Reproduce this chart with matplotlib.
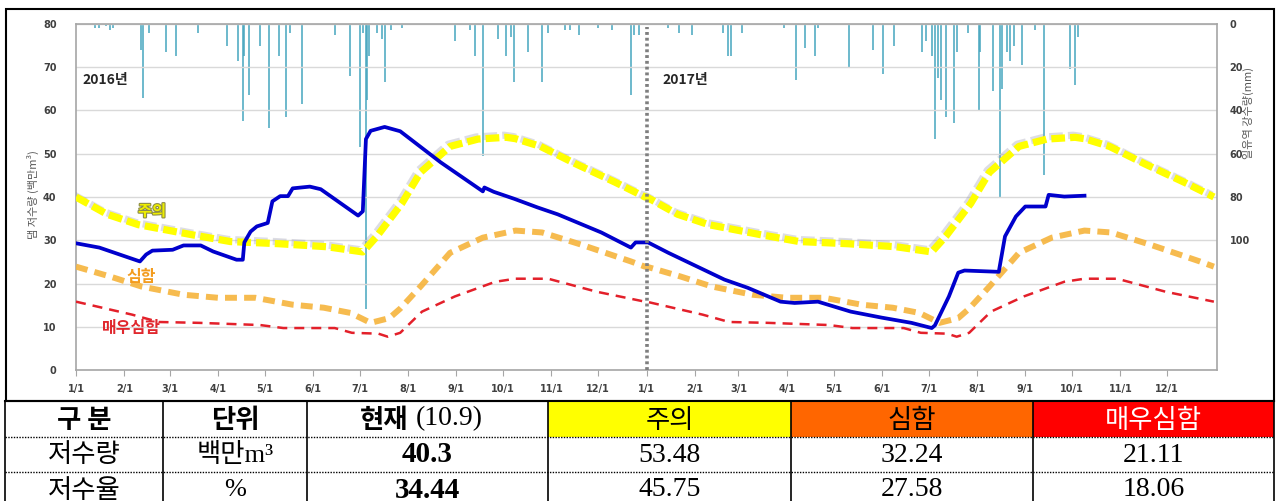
import matplotlib
matplotlib.use("Agg")
import matplotlib.pyplot as plt
import matplotlib.dates as mdates
import matplotlib.patheffects as pe
from matplotlib.patches import Rectangle
from matplotlib.lines import Line2D
import pandas as pd

# ---------------- data ----------------
# Daily dam storage (million m3), vertices of the observed line
storage_dates = [
    "2016-01-01", "2016-01-16", "2016-02-11", "2016-02-15", "2016-02-19",
    "2016-03-03", "2016-03-10", "2016-03-21", "2016-03-29", "2016-04-13",
    "2016-04-17", "2016-04-18", "2016-04-22", "2016-04-26", "2016-05-03",
    "2016-05-06", "2016-05-11", "2016-05-16", "2016-05-19", "2016-05-30",
    "2016-06-06", "2016-06-30", "2016-07-03", "2016-07-05", "2016-07-08",
    "2016-07-17", "2016-07-27", "2016-08-22", "2016-09-18", "2016-09-19",
    "2016-09-25", "2016-10-08", "2016-10-23", "2016-11-05", "2016-12-03",
    "2016-12-22", "2016-12-25", "2017-01-02", "2017-01-15", "2017-02-20",
    "2017-03-07", "2017-03-28", "2017-04-06", "2017-04-21", "2017-05-12",
    "2017-06-01", "2017-06-20", "2017-07-03", "2017-07-05", "2017-07-14",
    "2017-07-20", "2017-07-24", "2017-08-15", "2017-08-19", "2017-08-26",
    "2017-09-01", "2017-09-14", "2017-09-16", "2017-09-26", "2017-10-09",
]
storage_vals = [
    29.3, 28.3, 25.1, 26.7, 27.6,
    27.8, 28.8, 28.8, 27.4, 25.5,
    25.5, 29.5, 32.0, 33.2, 34.0,
    39.0, 40.2, 40.2, 42.0, 42.4,
    41.8, 35.7, 36.7, 53.4, 55.3,
    56.2, 55.2, 48.0, 41.3, 42.2,
    41.2, 39.6, 37.6, 36.0, 31.8,
    28.3, 29.5, 29.5, 27.1, 20.9,
    19.0, 15.8, 15.5, 15.8, 13.5,
    12.1, 10.9, 9.7, 10.3, 17.0,
    22.5, 23.0, 22.7, 30.9, 35.5,
    37.8, 37.8, 40.5, 40.1, 40.3,
]

# Annual drought-stage rule curves (month-day, million m3)
caution_md = ["01-01", "01-21", "02-10", "03-15", "04-09", "05-10", "06-10",
              "07-03", "07-12", "07-28", "08-09", "08-28", "09-15", "10-03",
              "10-09", "10-25", "11-17", "12-12", "12-31"]
caution_vals = [40.0, 36.0, 33.6, 31.3, 29.7, 29.2, 28.5,
                27.3, 30.9, 38.5, 45.7, 51.7, 53.4, 53.8,
                53.48, 51.7, 47.6, 43.4, 40.0]

severe_md = ["01-01", "01-23", "02-12", "03-10", "04-01", "04-25", "05-19",
             "06-08", "06-25", "07-08", "07-20", "07-27", "08-09", "08-28",
             "09-18", "10-09", "10-26", "11-20", "12-22", "12-31"]
severe_vals = [23.9, 21.6, 19.3, 17.4, 16.7, 16.7, 15.1,
               14.4, 13.2, 10.9, 12.0, 14.2, 19.3, 27.1,
               30.6, 32.24, 31.8, 29.0, 25.1, 23.9]

very_md = ["01-01", "02-06", "02-23", "03-20", "04-28", "05-13", "06-15",
           "06-26", "07-13", "07-19", "07-27", "08-10", "08-31", "09-26",
           "10-09", "10-30", "11-30", "12-31"]
very_vals = [15.8, 12.8, 11.1, 10.9, 10.4, 9.7, 9.7,
             8.6, 8.4, 7.7, 8.6, 13.5, 17.0, 20.4,
             21.11, 21.1, 18.1, 15.8]

curve_years = [2016, 2017]

# Daily basin rainfall (mm)
rain_dates = [
    "2016-01-13", "2016-01-16", "2016-01-20", "2016-01-23", "2016-01-25",
    "2016-02-12", "2016-02-13", "2016-02-17", "2016-02-28", "2016-03-05",
    "2016-03-19", "2016-04-07", "2016-04-14", "2016-04-17", "2016-04-18",
    "2016-04-21", "2016-04-28", "2016-05-04", "2016-05-10", "2016-05-15",
    "2016-05-17", "2016-05-25", "2016-06-15", "2016-06-25", "2016-07-01",
    "2016-07-03", "2016-07-05", "2016-07-06", "2016-07-07", "2016-07-12",
    "2016-07-15", "2016-07-17", "2016-07-21", "2016-07-28", "2016-08-31",
    "2016-09-10", "2016-09-13", "2016-09-18", "2016-09-28", "2016-10-03",
    "2016-10-06", "2016-10-08", "2016-10-17", "2016-10-26", "2016-10-30",
    "2016-11-10", "2016-11-13", "2016-11-19", "2016-12-01", "2016-12-10",
    "2016-12-22", "2016-12-24", "2016-12-27",
    "2017-01-15", "2017-01-22", "2017-01-30", "2017-02-19", "2017-02-22",
    "2017-02-24", "2017-03-03", "2017-03-30", "2017-04-07", "2017-04-13",
    "2017-04-19", "2017-04-21", "2017-05-11", "2017-05-26", "2017-06-02",
    "2017-06-09", "2017-06-27", "2017-06-29", "2017-07-03", "2017-07-05",
    "2017-07-07", "2017-07-09", "2017-07-12", "2017-07-17", "2017-07-19",
    "2017-07-26", "2017-08-02", "2017-08-03", "2017-08-11", "2017-08-16",
    "2017-08-17", "2017-08-20", "2017-08-22", "2017-08-25", "2017-08-30",
    "2017-09-07", "2017-09-13", "2017-09-30", "2017-10-03", "2017-10-05",
]
rain_mm = [
    2, 2, 1, 3, 2,
    12, 34, 4, 13, 15,
    4, 10, 17, 45, 15,
    33, 10, 48, 15, 43,
    4, 37, 5, 24, 57,
    4, 132, 35, 15, 4,
    7, 27, 3, 2, 8,
    3, 15, 61, 7, 15,
    6, 27, 13, 27, 4,
    3, 3, 5, 2, 3,
    33, 5, 5,
    2, 4, 5, 4, 15,
    15, 4, 2, 26, 11,
    15, 2, 20, 12, 23,
    10, 13, 8, 15, 53,
    25, 35, 43, 46, 13,
    4, 40, 13, 31, 80,
    30, 13, 17, 10, 19,
    3, 70, 21, 28, 6,
]

# Summary table
table_header = ["구 분", "단위", "현재", "주의", "심함", "매우심함"]
table_header_date = "(10.9)"
row_labels = ["저수량", "저수율"]
row_units = ["백만m³", "%"]
current_vals = ["40.3", "34.44"]
caution_now = ["53.48", "45.75"]
severe_now = ["32.24", "27.58"]
very_now = ["21.11", "18.06"]

# ---------------- figure ----------------
W, H = 1276, 501
fig = plt.figure(figsize=(W / 100, H / 100), dpi=100)
fig.patch.set_facecolor("white")

KR = ["Noto Sans CJK KR", "DejaVu Sans"]
SERIF_KR = ["Liberation Serif", "Noto Sans CJK KR"]


def fx(x):
    return x / W


def fy(y):
    return 1 - y / H


ax = fig.add_axes([fx(76), fy(370), (1217 - 76) / W, (370 - 24) / H])
ax2 = ax.twinx()
ax.set_zorder(ax2.get_zorder() + 1)
ax.patch.set_visible(False)

# rainfall hanging from the top
rd = pd.to_datetime(rain_dates)
ax2.vlines(rd, 0, rain_mm, color="#45A5BE", lw=1.1)
ax2.set_ylim(160, 0)
ax2.set_yticks([0, 20, 40, 60, 80, 100])
ax2.tick_params(axis="y", length=0, pad=9, labelsize=7, labelcolor="#404040")
for s in ax2.spines.values():
    s.set_visible(False)


def annual(md, years):
    return pd.to_datetime([f"{y}-{d}" for y in years for d in md])


# rule curves
cd = annual(caution_md, curve_years)
ax.plot(cd, caution_vals * len(curve_years), color="#FFFF00", lw=5.2,
        linestyle=(0, (1.9, 0.7)), zorder=3,
        path_effects=[pe.SimpleLineShadow(offset=(-1.5, 1.5), shadow_color="#9090A8", alpha=0.3),
                      pe.Normal()])

sd = annual(severe_md, curve_years)
ax.plot(sd, severe_vals * len(curve_years), color="#F6B43C", lw=4.3,
        linestyle=(0, (2.0, 1.2)), alpha=0.9, zorder=3)

vd = annual(very_md, curve_years)
ax.plot(vd, very_vals * len(curve_years), color="#E3202A", lw=1.8,
        linestyle=(0, (4.0, 2.8)), zorder=3)

# observed storage
ax.plot(pd.to_datetime(storage_dates), storage_vals, color="#0000CC", lw=2.7,
        solid_joinstyle="round", zorder=4)

# year divider
ax.plot([pd.Timestamp("2017-01-01")] * 2, [0, 79.2], color="#7F7F7F", lw=2.6,
        linestyle=(0, (0.8, 0.8)), zorder=5)

ax.set_ylim(0, 80)
ax.set_yticks(range(0, 81, 10))
ax.set_xlim(pd.Timestamp("2016-01-01"), pd.Timestamp("2018-01-02"))
ax.yaxis.grid(True, color="#D9D9D9", lw=1)
ax.set_axisbelow(True)
ax.tick_params(axis="y", length=0, pad=14, labelsize=7, labelcolor="#404040")
ax.set_xticks(pd.date_range("2016-01-01", "2017-12-01", freq="MS"))
ax.xaxis.set_major_formatter(
    matplotlib.ticker.FuncFormatter(lambda v, p: f"{mdates.num2date(v).month}/{mdates.num2date(v).day}"))
ax.tick_params(axis="x", length=4, color="#A6A6A6", pad=6, labelsize=7, labelcolor="#404040")
for side in ["left", "bottom", "right", "top"]:
    ax.spines[side].set_color("#A6A6A6")
    ax.spines[side].set_linewidth(1.2)
for lab in ax.get_xticklabels() + ax.get_yticklabels() + ax2.get_yticklabels():
    lab.set_fontweight("bold")

# axis titles
fig.text(fx(33), fy(195), "댐 저수량 (백만m³)", rotation=90, ha="center", va="center",
         fontsize=8, color="#595959", family=KR)
fig.text(fx(1248), fy(113), "일유역 강수량(mm)", rotation=90, ha="center", va="center",
         fontsize=8, color="#595959", family=KR)

# labels inside the chart
fig.text(fx(82), fy(80), "2016년", ha="left", va="center", fontsize=10,
         fontweight="bold", color="#262626", family=KR)
fig.text(fx(662), fy(80), "2017년", ha="left", va="center", fontsize=10,
         fontweight="bold", color="#262626", family=KR)
fig.text(fx(152), fy(211), "주의", ha="center", va="center", fontsize=11,
         fontweight="bold", color="#EEEE00", family=KR,
         path_effects=[pe.withStroke(linewidth=1.6, foreground="#8C8C4A")])
fig.text(fx(141), fy(277), "심함", ha="center", va="center", fontsize=11.5,
         fontweight="bold", color="#F39C1F", family=KR)
fig.text(fx(131), fy(328), "매우심함", ha="center", va="center", fontsize=11.5,
         fontweight="bold", color="#E0282E", family=KR)

# chart frame
fig.add_artist(Rectangle((fx(6), fy(401)), (1274 - 6) / W, (401 - 9) / H,
                         transform=fig.transFigure, fill=False, ec="black", lw=1.5))

# ---------------- table ----------------
col_x = [5, 163, 307, 548, 791, 1033, 1274]
row_y = [401, 437, 472, 510]
header_fill = [None, None, None, "#FFFF00", "#FF6600", "#FF0000"]
for i, fill in enumerate(header_fill):
    if fill:
        fig.add_artist(Rectangle((fx(col_x[i]), fy(row_y[1])), (col_x[i + 1] - col_x[i]) / W,
                                 (row_y[1] - row_y[0]) / H, transform=fig.transFigure,
                                 fc=fill, ec="none"))
# vertical rules
for x in col_x:
    fig.add_artist(Line2D([fx(x), fx(x)], [fy(row_y[0]), 0], transform=fig.transFigure,
                          color="black", lw=1.2))
fig.add_artist(Line2D([fx(col_x[0]), fx(col_x[-1])], [fy(row_y[0])] * 2,
                      transform=fig.transFigure, color="black", lw=1.5))
for y in row_y[1:3]:
    fig.add_artist(Line2D([fx(col_x[0]), fx(col_x[-1])], [fy(y)] * 2,
                          transform=fig.transFigure, color="black", lw=1.0,
                          linestyle=(0, (1, 1))))


def cx(i):
    return fx((col_x[i] + col_x[i + 1]) / 2)


hy = fy(420)
fig.text(cx(0), hy, table_header[0], ha="center", va="center", fontsize=19,
         fontweight="bold", family=KR)
fig.text(cx(1), hy, table_header[1], ha="center", va="center", fontsize=19,
         fontweight="bold", family=KR)
fig.text(fx(408), hy, table_header[2], ha="right", va="center", fontsize=19,
         fontweight="bold", family=KR)
fig.text(fx(416), fy(419), table_header_date, ha="left", va="center", fontsize=20,
         family=SERIF_KR)
fig.text(cx(3), hy, table_header[3], ha="center", va="center", fontsize=19,
         color="black", family=KR)
fig.text(cx(4), hy, table_header[4], ha="center", va="center", fontsize=19,
         color="black", family=KR)
fig.text(cx(5), hy, table_header[5], ha="center", va="center", fontsize=19,
         color="white", family=KR)

for r, ymid in enumerate([455, 490]):
    yy = fy(ymid)
    fig.text(cx(0), yy, row_labels[r], ha="center", va="center", fontsize=19, family=KR)
    fig.text(cx(1), yy, row_units[r], ha="center", va="center", fontsize=19, family=SERIF_KR)
    fig.text(cx(2), yy, current_vals[r], ha="center", va="center", fontsize=21,
             fontweight="bold", family=SERIF_KR)
    fig.text(cx(3), yy, caution_now[r], ha="center", va="center", fontsize=20, family=SERIF_KR)
    fig.text(cx(4), yy, severe_now[r], ha="center", va="center", fontsize=20, family=SERIF_KR)
    fig.text(cx(5), yy, very_now[r], ha="center", va="center", fontsize=20, family=SERIF_KR)

fig.savefig("out.png", dpi=100)
